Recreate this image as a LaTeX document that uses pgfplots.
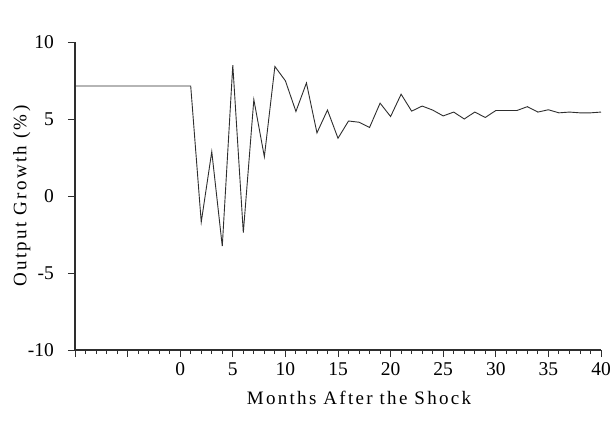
\documentclass[border=0pt]{standalone}
\usepackage{pgfplots}
\pgfplotsset{compat=1.18}
\usepackage{fontspec}
\setmainfont{Liberation Serif}
\newfontfamily\lblfont[LetterSpace=12]{Liberation Serif}
\definecolor{ln}{HTML}{2E2E2E}
\begin{document}
\begin{tikzpicture}
\useasboundingbox (-75pt,-86pt) rectangle (540pt,350pt);
\begin{axis}[
  scale only axis, width=526pt, height=308pt,
  xmin=-10, xmax=40, ymin=-10, ymax=10,
  axis x line*=bottom, axis y line*=left,
  axis line style={ln, line width=1.1pt, -},
  xtick={-10,-5,...,40},
  xticklabels={,,0,5,10,15,20,25,30,35,40},
  minor x tick num=4,
  ytick={-10,-5,0,5,10},
  yticklabels={-10,-5,0,5,10},
  tick align=outside,
  major tick length=7pt, minor tick length=4pt,
  tick style={ln, line width=0.9pt},
  xticklabel style={font=\fontsize{19.5}{23}\selectfont, anchor=center, inner sep=0pt, yshift=-12pt},
  yticklabel style={font=\fontsize{19.5}{23}\selectfont, anchor=east, inner sep=0pt, xshift=-14pt},
  xlabel={Months After the Shock},
  ylabel={Output Growth (\%)},
  xlabel style={font=\lblfont\fontsize{19}{23}\selectfont, at={(axis description cs:0.54,0)}, anchor=center, yshift=-48pt},
  ylabel style={font=\lblfont\fontsize{19}{23}\selectfont, at={(axis description cs:-0.101,0.5)}, anchor=center},
  clip=false,
]
\addplot[ln, line width=0.9pt, mark=none] coordinates {
(-10,7.14) (1,7.14) (2,-1.70) (3,2.88) (4,-3.26) (5,8.50) (6,-2.38) (7,6.26) (8,2.55) (9,8.41) (10,7.48)
(11,5.49) (12,7.34) (13,4.10) (14,5.58) (15,3.75) (16,4.87) (17,4.79) (18,4.45) (19,6.03) (20,5.16)
(21,6.61) (22,5.51) (23,5.84) (24,5.58) (25,5.20) (26,5.45) (27,5.00) (28,5.45) (29,5.10) (30,5.55)
(31,5.55) (32,5.55) (33,5.80) (34,5.45) (35,5.60) (36,5.40) (37,5.45) (38,5.40) (39,5.40) (40,5.45)
};
\end{axis}
\end{tikzpicture}
\end{document}
